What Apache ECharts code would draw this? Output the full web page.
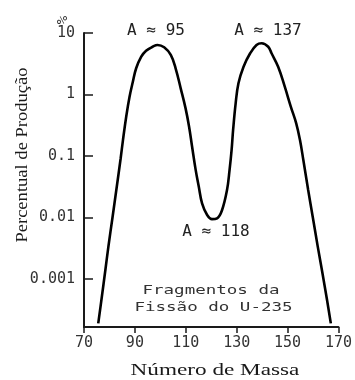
<!DOCTYPE html>
<html>
<head>
<meta charset="utf-8">
<style>
  html, body { margin: 0; padding: 0; background: #fff; }
  #chart { width: 355px; height: 380px; }
</style>
<script src="https://cdn.jsdelivr.net/npm/echarts@6/dist/echarts.min.js"></script>
</head>
<body>
<div id="chart"></div>
<script>
// Fission yield of U-235 fragments versus mass number (percent, log scale)
const massNumbers = [
  75.6, 77.0, 78.4, 79.6, 81.2, 82.7, 84.4, 85.3, 86.6, 87.9,
  89.2, 90.5, 92.5, 94.4, 97.0, 98.9, 101.5, 104.1, 106.0, 108.0,
  109.9, 111.3, 112.5, 113.9, 115.1, 116.4, 118.4, 120.3, 122.3, 124.2,
  126.2, 127.2, 128.0, 128.6, 129.6, 130.7, 132.7, 135.3, 137.8, 139.8,
  142.4, 143.7, 146.3, 148.9, 151.3, 153.4, 154.9, 156.2, 158.1, 159.9,
  161.9, 163.7, 165.5, 167.0
];
const yieldPercent = [
  0.00019, 0.00051, 0.0014, 0.0034, 0.010, 0.028, 0.091, 0.18, 0.44, 0.92,
  1.61, 2.67, 4.12, 5.15, 5.98, 6.38, 5.85, 4.39, 2.67, 1.26,
  0.60, 0.30, 0.14, 0.059, 0.032, 0.017, 0.011, 0.0094, 0.0097, 0.013,
  0.028, 0.059, 0.125, 0.265, 0.72, 1.52, 2.83, 4.68, 6.38, 6.81,
  5.98, 4.68, 2.83, 1.34, 0.63, 0.34, 0.18, 0.086, 0.028, 0.0102,
  0.0033, 0.00125, 0.00046, 0.00019
];

// Vertical axis: decades, drawn on a log10 scale
const yTickExponents = [-3, -2, -1, 0, 1];
const yTickLabels = ['0.001', '0.01', '0.1', '1', '10'];
const yAxisBottom = -3.78;   // log10 of the lowest yield shown

const xMin = 70, xMax = 170, xStep = 20;

const seriesData = massNumbers.map((a, i) => [a, Math.log10(yieldPercent[i])]);
const labelFor = {};
yTickExponents.forEach((e, i) => { labelFor[e] = yTickLabels[i]; });

const mono = "'DejaVu Sans Mono', monospace";
const serif = "'Liberation Serif', 'DejaVu Serif', serif";
const ink = '#1a1a1a';

const chart = echarts.init(document.getElementById('chart'), null, { renderer: 'canvas' });
chart.setOption({
  animation: false,
  backgroundColor: '#fff',
  grid: { left: 84, right: 14, top: 33, bottom: 53, containLabel: false },
  xAxis: {
    type: 'value',
    min: xMin, max: xMax, interval: xStep,
    axisLine: { onZero: false, lineStyle: { color: ink, width: 2 } },
    axisTick: { show: true, inside: false, length: 6, lineStyle: { color: ink, width: 1.5 } },
    axisLabel: { color: '#333', fontFamily: mono, fontSize: 15, margin: 9 },
    splitLine: { show: false }
  },
  yAxis: {
    type: 'value',
    min: yAxisBottom, max: 1,
    axisLine: { show: true, onZero: false, lineStyle: { color: ink, width: 2 } },
    axisTick: { show: true, inside: true, length: 9, customValues: yTickExponents,
                lineStyle: { color: ink, width: 1.5 } },
    axisLabel: { color: '#333', fontFamily: mono, fontSize: 15, margin: 9,
                 customValues: yTickExponents,
                 formatter: v => labelFor[Math.round(v)] },
    splitLine: { show: false }
  },
  series: [{
    type: 'line',
    data: seriesData,
    smooth: 0.4,
    showSymbol: false,
    lineStyle: { color: '#000', width: 2.6 }
  }],
  graphic: [
    { type: 'text', x: 63, y: 20, rotation: Math.PI / 2,
      style: { text: '%', font: "14px " + mono, fill: '#333', align: 'center', verticalAlign: 'middle' } },
    { type: 'text', x: 23, y: 155, rotation: Math.PI / 2, scaleX: 1.16,
      style: { text: 'Percentual de Produção', font: "16px " + serif, fill: ink, align: 'center', verticalAlign: 'middle' } },
    { type: 'text', x: 215, y: 371, scaleX: 1.45,
      style: { text: 'Número de Massa', font: "16px " + serif, fill: ink, align: 'center', verticalAlign: 'middle' } },
    { type: 'text', x: 156, y: 31,
      style: { text: 'A ≈ 95', font: "16px " + mono, fill: '#222', align: 'center', verticalAlign: 'middle' } },
    { type: 'text', x: 268, y: 31,
      style: { text: 'A ≈ 137', font: "16px " + mono, fill: '#222', align: 'center', verticalAlign: 'middle' } },
    { type: 'text', x: 216, y: 232,
      style: { text: 'A ≈ 118', font: "16px " + mono, fill: '#222', align: 'center', verticalAlign: 'middle' } },
    { type: 'text', x: 211, y: 291, scaleX: 1.46,
      style: { text: 'Fragmentos da', font: "12px " + mono, fill: '#333', align: 'center', verticalAlign: 'middle' } },
    { type: 'text', x: 213.5, y: 308, scaleX: 1.46,
      style: { text: 'Fissão do U-235', font: "12px " + mono, fill: '#333', align: 'center', verticalAlign: 'middle' } }
  ]
});
</script>
</body>
</html>
